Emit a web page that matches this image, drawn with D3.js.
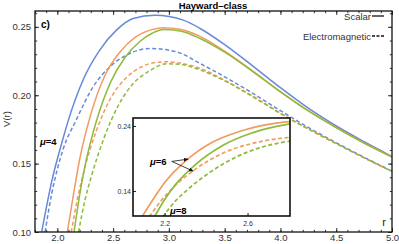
<!DOCTYPE html>
<html><head><meta charset="utf-8">
<script src="https://cdn.jsdelivr.net/npm/d3@7"></script>
<style>
body{margin:0;background:#fff}
svg{display:block}
text{font-family:"Liberation Sans",Arial,sans-serif}
</style>
</head><body>
<svg id="c" width="399" height="244"></svg>
<script>
// ---- data ----
const rBlueS  = [1.86,1.95,2.05,2.10,2.23,2.38,2.53,2.68,2.875,3.13,3.28,3.50,3.75,4.00,4.25,4.50,4.75,5.00];
const vBlueS  = [0.100,0.137,0.168,0.182,0.211,0.233,0.2476,0.2561,0.2585,0.2549,0.2488,0.2370,0.2215,0.2055,0.1905,0.1775,0.1660,0.1552];
const rBlueD  = [1.89,1.95,2.05,2.17,2.32,2.47,2.62,2.83,3.07,3.28,3.50,3.75,4.00,4.25,4.50,4.75,5.00];
const vBlueD  = [0.100,0.128,0.160,0.182,0.206,0.2207,0.2293,0.2342,0.2317,0.2232,0.2135,0.2015,0.1887,0.1765,0.1652,0.1546,0.1445];
const rOrS    = [2.09,2.15,2.20,2.30,2.43,2.56,2.70,2.85,2.95,3.10,3.28,3.50,3.75,4.00,4.25,4.50,4.75,5.00];
const vOrS    = [0.100,0.130,0.153,0.186,0.215,0.2315,0.2425,0.2480,0.2493,0.2482,0.2430,0.2322,0.2178,0.2027,0.1887,0.1764,0.1651,0.1549];
const rOrD    = [2.125,2.18,2.24,2.35,2.48,2.62,2.75,2.86,2.98,3.10,3.28,3.50,3.75,4.00,4.25,4.50,4.75,5.00];
const vOrD    = [0.100,0.124,0.145,0.174,0.198,0.2130,0.2205,0.2237,0.2245,0.2235,0.2196,0.2110,0.1995,0.1870,0.1755,0.1648,0.1543,0.1443];
const rGrS    = [2.15,2.20,2.25,2.35,2.48,2.61,2.74,2.85,2.95,3.10,3.28,3.50,3.75,4.00,4.25,4.50,4.75,5.00];
const vGrS    = [0.100,0.127,0.149,0.181,0.210,0.228,0.2393,0.2453,0.2480,0.2470,0.2415,0.2315,0.2175,0.2025,0.1885,0.1763,0.1650,0.1548];
const rGrD    = [2.19,2.25,2.31,2.42,2.55,2.68,2.82,2.98,3.10,3.28,3.50,3.75,4.00,4.25,4.50,4.75,5.00];
const vGrD    = [0.100,0.124,0.142,0.169,0.193,0.2085,0.2175,0.2230,0.2226,0.2185,0.2105,0.1990,0.1866,0.1752,0.1646,0.1542,0.1443];

const xMajor = [2.0,2.5,3.0,3.5,4.0,4.5,5.0];
const yMajor = [0.10,0.15,0.20,0.25];
const xInsetTicks = [2.2,2.6];
const yInsetTicks = [0.14,0.24];
const legendLabels = ["Scalar","Electromagnetic"];

// ---- drawing ----
const colors = {blue:"#6689d8", orange:"#f29b5e", green:"#8fba3c"};
const series = [
  {r:rBlueS, v:vBlueS, c:colors.blue, dash:null, inset:false},
  {r:rBlueD, v:vBlueD, c:colors.blue, dash:"4,2.5", inset:false},
  {r:rOrS, v:vOrS, c:colors.orange, dash:null, inset:true},
  {r:rOrD, v:vOrD, c:colors.orange, dash:"4,2.5", inset:true},
  {r:rGrS, v:vGrS, c:colors.green, dash:null, inset:true},
  {r:rGrD, v:vGrD, c:colors.green, dash:"4,2.5", inset:true},
];

const svg = d3.select("#c");
const L=35, R=392, T=11, B=232;
const x = d3.scaleLinear([1.8,5.0],[L,R]);
const y = d3.scaleLinear([0.10,0.2616],[B,T]);

const defs = svg.append("defs");
defs.append("clipPath").attr("id","mc").append("rect").attr("x",L).attr("y",T).attr("width",R-L).attr("height",B-T);

const gMain = svg.append("g").attr("clip-path","url(#mc)");
function drawSeries(g, xs, ys, list, w){
  list.forEach(s=>{
    const pts = s.r.map((r,i)=>[r,s.v[i]]);
    g.append("path").datum(pts)
      .attr("fill","none").attr("stroke",s.c).attr("stroke-width",w)
      .attr("stroke-dasharray",s.dash)
      .attr("d",d3.line().x(d=>xs(d[0])).y(d=>ys(d[1])).curve(d3.curveMonotoneX));
  });
}
drawSeries(gMain,x,y,series,1.5);

// axes with inward ticks
const minorX = d3.range(18,51).map(d=>d/10);
const minorY = d3.range(10,27).map(d=>d/100);
function axes(){
  const tc="#333";
  svg.append("g").attr("transform",`translate(0,${B})`)
    .call(d3.axisBottom(x).tickValues(xMajor).tickSize(-4).tickPadding(2).tickFormat(d3.format(".1f")));
  svg.append("g").attr("transform",`translate(0,${B})`).call(d3.axisBottom(x).tickValues(minorX).tickSize(-2.2).tickFormat(""));
  svg.append("g").attr("transform",`translate(0,${T})`).call(d3.axisTop(x).tickValues(xMajor).tickSize(-4).tickFormat(""));
  svg.append("g").attr("transform",`translate(0,${T})`).call(d3.axisTop(x).tickValues(minorX).tickSize(-2.2).tickFormat(""));
  svg.append("g").attr("transform",`translate(${L},0)`)
    .call(d3.axisLeft(y).tickValues(yMajor).tickSize(-4).tickPadding(4).tickFormat(d3.format(".2f")));
  svg.append("g").attr("transform",`translate(${L},0)`).call(d3.axisLeft(y).tickValues(minorY).tickSize(-2.2).tickFormat(""));
  svg.append("g").attr("transform",`translate(${R},0)`).call(d3.axisRight(y).tickValues(yMajor).tickSize(-4).tickFormat(""));
  svg.append("g").attr("transform",`translate(${R},0)`).call(d3.axisRight(y).tickValues(minorY).tickSize(-2.2).tickFormat(""));
  svg.selectAll(".domain").remove();
  svg.selectAll(".tick line").attr("stroke","#222").attr("stroke-width",0.9);
  svg.selectAll(".tick text").attr("fill",tc).attr("font-size",9.5).attr("font-family","Liberation Sans, Arial, sans-serif");
}
axes();
svg.append("rect").attr("x",L).attr("y",T).attr("width",R-L).attr("height",B-T)
  .attr("fill","none").attr("stroke","#111").attr("stroke-width",1.3);

// title and labels
svg.append("text").attr("x",213).attr("y",9).attr("text-anchor","middle")
  .attr("font-weight","bold").attr("font-size",9.5).text("Hayward–class");
svg.append("text").attr("x",41).attr("y",28).attr("font-weight","bold").attr("font-size",10).text("c)");
svg.append("text").attr("transform","translate(10,119) rotate(-90)").attr("text-anchor","middle")
  .attr("font-size",9.5).attr("fill","#333").text("V(r)");
svg.append("text").attr("x",384).attr("y",226).attr("text-anchor","middle").attr("font-size",11).attr("fill","#222").text("r");
const mu4 = svg.append("text").attr("x",40).attr("y",145).attr("font-size",9.5).attr("font-weight","bold");
mu4.append("tspan").attr("font-style","italic").text("μ");
mu4.append("tspan").text("=4");

// legend
legendLabels.forEach((lab,i)=>{
  const yy = 16 + i*20;
  svg.append("text").attr("x",371).attr("y",yy+3.5).attr("text-anchor","end")
    .attr("font-size",9.5).attr("fill","#333").text(lab);
  svg.append("line").attr("x1",372).attr("x2",384).attr("y1",yy).attr("y2",yy)
    .attr("stroke","#111").attr("stroke-width",1.3).attr("stroke-dasharray",i?"3,1.5":null);
});

// inset
const IL=133, IR=290, IT=118, IB=216;
const xi = d3.scaleLinear([2.047,2.805],[IL,IR]);
const yi = d3.scaleLinear([0.1015,0.2523],[IB,IT]);
svg.append("rect").attr("x",IL).attr("y",IT).attr("width",IR-IL).attr("height",IB-IT).attr("fill","#fff");
defs.append("clipPath").attr("id","ic").append("rect").attr("x",IL).attr("y",IT).attr("width",IR-IL).attr("height",IB-IT);
const gIn = svg.append("g").attr("clip-path","url(#ic)");
drawSeries(gIn,xi,yi,series.filter(s=>s.inset),1.7);
const ia1 = svg.append("g").attr("transform",`translate(0,${IB})`)
  .call(d3.axisBottom(xi).tickValues(xInsetTicks).tickSize(-3).tickPadding(5).tickFormat(d3.format(".1f")));
const ia2 = svg.append("g").attr("transform",`translate(${IL},0)`)
  .call(d3.axisLeft(yi).tickValues(yInsetTicks).tickSize(-3).tickPadding(2).tickFormat(d3.format(".2f")));
[ia1,ia2].forEach(g=>{g.select(".domain").remove();
  g.selectAll(".tick line").attr("stroke","#222");
  g.selectAll(".tick text").attr("font-size",7).attr("fill","#333").attr("font-family","Liberation Sans, Arial, sans-serif");});
svg.append("rect").attr("x",IL).attr("y",IT).attr("width",IR-IL).attr("height",IB-IT)
  .attr("fill","none").attr("stroke","#111").attr("stroke-width",1.6);

// inset annotations
defs.append("marker").attr("id","ah").attr("viewBox","0 0 10 10").attr("refX",9).attr("refY",5)
  .attr("markerWidth",6).attr("markerHeight",6).attr("orient","auto")
  .append("path").attr("d","M0,1 L10,5 L0,9 z").attr("fill","#111");
const mu6 = svg.append("text").attr("x",150).attr("y",165).attr("font-size",9.5).attr("font-weight","bold");
mu6.append("tspan").attr("font-style","italic").text("μ");
mu6.append("tspan").text("=6");
[[2.313,0.189],[2.338,0.1705]].forEach(p=>{
  svg.append("line").attr("x1",xi(2.234)).attr("y1",yi(0.1855)).attr("x2",xi(p[0])).attr("y2",yi(p[1]))
    .attr("stroke","#111").attr("stroke-width",0.8).attr("marker-end","url(#ah)");
});
const mu8 = svg.append("text").attr("x",170).attr("y",214).attr("font-size",9.5).attr("font-weight","bold");
mu8.append("tspan").attr("font-style","italic").text("μ");
mu8.append("tspan").text("=8");
</script>
</body></html>
